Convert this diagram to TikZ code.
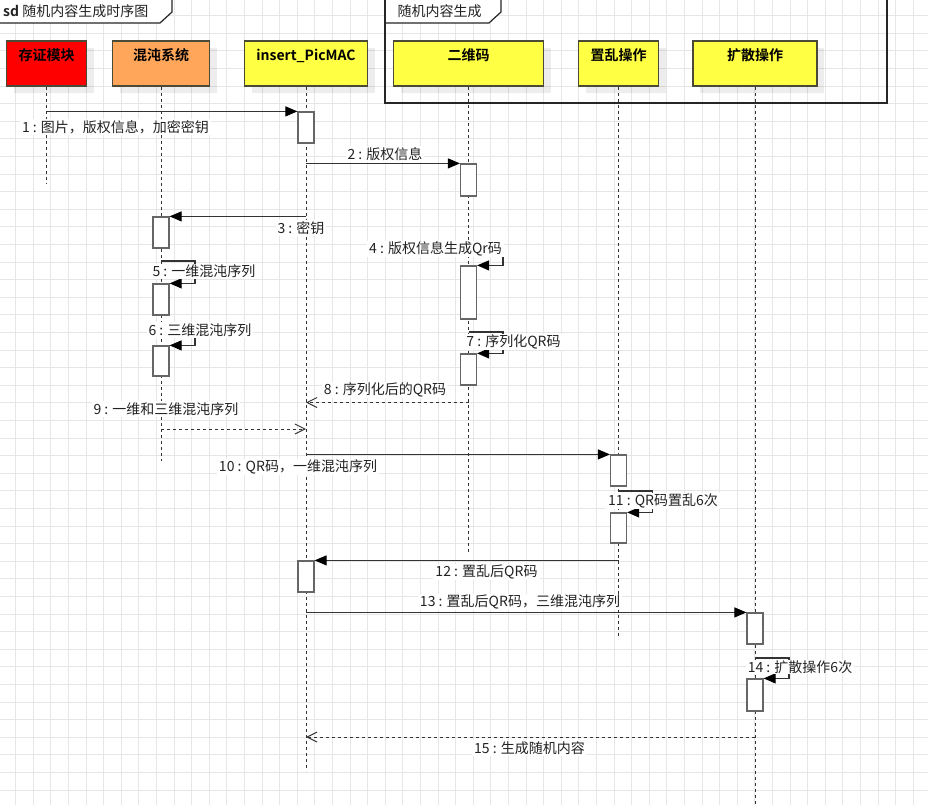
\documentclass[tikz,border=0pt]{standalone}
\usepackage{fontspec}
\setmainfont{Noto Sans CJK SC}[BoldFont={Noto Sans CJK SC Bold}]
\usetikzlibrary{arrows.meta,shadows}
\definecolor{gridc}{HTML}{E6E6E6}
\definecolor{linec}{HTML}{333333}
\definecolor{actc}{HTML}{666666}
\definecolor{headc}{HTML}{4A4A36}
\definecolor{redh}{HTML}{FF0000}
\definecolor{orangeh}{HTML}{FFA65A}
\definecolor{yellowh}{HTML}{FFFF44}
\definecolor{textc}{HTML}{222222}

\begin{document}
\begin{tikzpicture}[x=1pt,y=-1pt,
  every node/.style={font=\fontsize{14pt}{16pt}\selectfont, inner sep=0pt, text=textc},
  head/.style={draw=headc, line width=1.2pt, minimum height=45pt,
    font=\fontsize{14pt}{16pt}\selectfont\bfseries, text=black,
    text height=10pt, text depth=15pt,
    drop shadow={shadow xshift=7pt, shadow yshift=-7pt, fill=black, opacity=0.07}},
  act/.style={draw=actc, fill=white, line width=1.2pt, minimum width=16pt},
  life/.style={draw=linec, line width=1pt, dash pattern=on 3pt off 3pt},
  msg/.style={draw=linec, line width=1.1pt,
    -{Triangle[length=12pt,width=10pt,fill=black,color=black]}},
  reply/.style={draw=linec, line width=1pt, dash pattern=on 3pt off 3pt,
    -{Straight Barb[length=10pt,width=10pt]}},
  lbl/.style={fill=white, inner xsep=2pt, inner ysep=1pt},
  frameline/.style={draw=black!85, line width=1.2pt},
]
\useasboundingbox (0,0) rectangle (928,805);
\fill[white] (0,0) rectangle (928,805);

% background grid
\foreach \k in {0,...,52} {
  \draw[gridc, line width=1pt] ({15.7+17.6*\k},0) -- ({15.7+17.6*\k},805);
}
\foreach \k in {0,...,45} {
  \draw[gridc, line width=1pt] (0,{15.7+17.6*\k}) -- (928,{15.7+17.6*\k});
}

% outer sequence frame tab
\fill[white] (0,-2) -- (172,-2) -- (172,12) -- (160,23) -- (0,23) -- cycle;
\draw[frameline] (172,-2) -- (172,12) -- (160,23) -- (0,23);
\node[anchor=west] (sdtitle) at (3,11) {{\bfseries sd}\ 随机内容生成时序图};

% inner fragment frame
\draw[frameline] (385,-2) -- (385,103) -- (887,103) -- (887,-2);
\fill[white] (386,-2) -- (501,-2) -- (501,12) -- (489,23) -- (386,23) -- cycle;
\draw[frameline] (501,-2) -- (501,12) -- (489,23) -- (385,23);
\node[anchor=west] (fragtitle) at (397.5,11) {随机内容生成};

% lifeline heads
\node[head, fill=redh, minimum width=80pt] (cz) at (46.5,63.5) {存证模块};
\node[head, fill=orangeh, minimum width=97pt] (hd) at (161,63.5) {混沌系统};
\node[head, fill=yellowh, minimum width=123pt] (ins) at (306,63.5) {insert\_PicMAC};
\node[head, fill=yellowh, minimum width=150pt] (qr) at (468.5,63.5) {二维码};
\node[head, fill=yellowh, minimum width=80pt] (zl) at (618.5,63.5) {置乱操作};
\node[head, fill=yellowh, minimum width=124pt] (ks) at (755,63.5) {扩散操作};

% lifelines
\draw[life] (cz.south) -- ++(0,97);
\draw[life] (hd.south) -- ++(0,374);
\draw[life] (ins.south) -- ++(0,684);
\draw[life] (qr.south) -- ++(0,467);
\draw[life] (zl.south) -- ++(0,552);
\draw[life] (ks.south) -- ++(0,722);

% activation bars
\node[act, minimum height=31pt] (a1) at (306,127.5) {};
\node[act, minimum height=32pt] (b1) at (468.5,180) {};
\node[act, minimum height=31pt] (c1) at (161,232.5) {};
\node[act, minimum height=53pt] (b2) at (468.5,292.5) {};
\node[act, minimum height=31pt] (c2) at (161,299.5) {};
\node[act, minimum height=30pt] (c3) at (161,361) {};
\node[act, minimum height=31pt] (b3) at (468.5,369.5) {};
\node[act, minimum height=31pt] (d1) at (618.5,470.5) {};
\node[act, minimum height=30pt] (d2) at (618.5,528) {};
\node[act, minimum height=31pt] (a2) at (306,576.5) {};
\node[act, minimum height=31pt] (e1) at (755,628.5) {};
\node[act, minimum height=32pt] (e2) at (755,695) {};

% start points of self calls and returns on the lifelines
\coordinate (s4) at (468.5,244);
\coordinate (s5) at (161,261);
\coordinate (s6) at (161,323);
\coordinate (s7) at (468.5,332);
\coordinate (s11) at (618.5,491);
\coordinate (s14) at (755,658);
\coordinate (r8) at (468.5,402.5);
\coordinate (r9) at (161,429);
\coordinate (r15) at (755,737);

% messages
\draw[msg] (cz |- a1.north) -- (a1.north west);
\draw[msg] (ins |- b1.north) -- (b1.north west);
\draw[msg] (ins |- c1.north) -- (c1.north east);
\draw[msg] (s4) -- ++(34.5,0) |- (b2.north east);
\draw[msg] (s5) -- ++(34,0) |- (c2.north east);
\draw[msg] (s6) -- ++(34,0) |- (c3.north east);
\draw[msg] (s7) -- ++(34.5,0) |- (b3.north east);
\draw[reply] (r8) -- (ins |- r8);
\draw[reply] (r9) -- (ins |- r9);
\draw[msg] (ins |- d1.north) -- (d1.north west);
\draw[msg] (s11) -- ++(34,0) |- (d2.north east);
\draw[msg] (zl |- a2.north) -- (a2.north east);
\draw[msg] (ins |- e1.north) -- (e1.north west);
\draw[msg] (s14) -- ++(34,0) |- (e2.north east);
\draw[reply] (r15) -- (ins |- r15);

% message labels
\node[lbl] (l1) at (115.5,127) {1 : 图片，版权信息，加密密钥};
\node[lbl] (l2) at (385,154) {2 : 版权信息};
\node[lbl] (l3) at (301,228) {3 : 密钥};
\node[lbl] (l4) at (435.5,249) {4 : 版权信息生成Qr码};
\node[lbl] (l5) at (204,271.5) {5 : 一维混沌序列};
\node[lbl] (l6) at (200,330) {6 : 三维混沌序列};
\node[lbl] (l7) at (513.5,342) {7 : 序列化QR码};
\node[lbl] (l8) at (385,390) {8 : 序列化后的QR码};
\node[lbl] (l9) at (166,409) {9 : 一维和三维混沌序列};
\node[lbl] (l10) at (298,467) {10 : QR码，一维混沌序列};
\node[lbl] (l11) at (663,501) {11 : QR码置乱6次};
\node[lbl] (l12) at (486.5,572) {12 : 置乱后QR码};
\node[lbl] (l13) at (520,602) {13 : 置乱后QR码，三维混沌序列};
\node[lbl] (l14) at (800,667) {14 : 扩散操作6次};
\node[lbl] (l15) at (529.5,748) {15 : 生成随机内容};
\end{tikzpicture}
\end{document}
